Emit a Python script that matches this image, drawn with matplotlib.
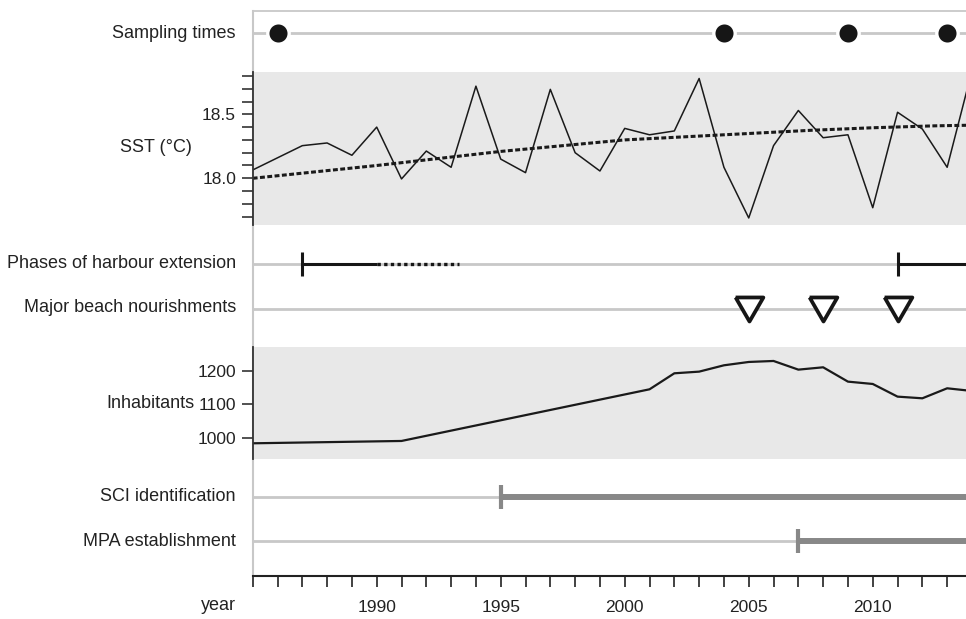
import numpy as np
import matplotlib
matplotlib.use("Agg")
import matplotlib.pyplot as plt
from matplotlib.ticker import FixedLocator

# --- data ---
sst_years = [1985, 1987, 1988, 1989, 1990, 1991, 1992, 1993, 1994, 1995, 1996, 1997, 1998,
             1999, 2000, 2001, 2002, 2003, 2004, 2005, 2006, 2007, 2008, 2009, 2010, 2011,
             2012, 2013, 2014]
sst_values = [18.065, 18.255, 18.276, 18.18, 18.40, 17.995, 18.213, 18.086, 18.72, 18.15,
              18.044, 18.695, 18.20, 18.057, 18.39, 18.34, 18.37, 18.78, 18.086, 17.69,
              18.255, 18.53, 18.317, 18.34, 17.77, 18.516, 18.385, 18.086, 18.84]

trend_years = [1985, 1987.5, 1990, 1992.5, 1995, 1997.5, 2000, 2002.5, 2005, 2007.5, 2010, 2012.5, 2014]
trend_values = [18.00, 18.05, 18.10, 18.155, 18.21, 18.255, 18.30, 18.325, 18.35, 18.375, 18.395, 18.41, 18.415]

inhab_years = [1985, 1991, 2001, 2002, 2003, 2004, 2005, 2006, 2007, 2008, 2009, 2010, 2011, 2012, 2013, 2014]
inhab_values = [983, 990, 1145, 1193, 1198, 1217, 1227, 1230, 1204, 1211, 1168, 1161, 1123, 1118, 1148, 1140]

sampling_years = [1986, 2004, 2009, 2013]
harbour_solid = [(1987, 1990), (2011, 2014)]
harbour_dotted = [(1990, 1993.3)]
harbour_starts = [1987, 2011]
nourishment_years = [2005, 2008, 2011]
sci_year = 1995
mpa_year = 2007

x_min, x_max = 1985, 2013.76
year_ticks = list(range(1985, 2014))
year_labels = [str(y) if (y % 5 == 0 and y > 1985) else "" for y in year_ticks]

plt.rcParams["font.family"] = ["Liberation Sans", "DejaVu Sans"]
FS = 13
TFS = 12.5
LIGHT = "#c8c8c8"
MID = "#888888"
INK = "#161616"
TXT = "#222222"

W, H = 966, 619
fig = plt.figure(figsize=(W / 100, H / 100), dpi=100)


def frac_box(top_px, bottom_px, left_px=252.7, right_px=W):
    return [left_px / W, (H - bottom_px) / H, (right_px - left_px) / W, (bottom_px - top_px) / H]


# background axes holding the timeline rows and the year axis (y in pixels)
ax = fig.add_axes(frac_box(11, 576), zorder=0)
ax.set_xlim(x_min, x_max)
ax.set_ylim(576, 11)
ax.patch.set_alpha(0)
ax.spines["right"].set_visible(False)
ax.spines["top"].set_color(LIGHT)
ax.spines["top"].set_linewidth(1.3)
ax.spines["left"].set_color(LIGHT)
ax.spines["left"].set_linewidth(1.5)
ax.spines["bottom"].set_color(TXT)
ax.spines["bottom"].set_linewidth(1.5)
ax.set_yticks([])
ax.xaxis.set_major_locator(FixedLocator(year_ticks))
ax.set_xticklabels(year_labels)
ax.tick_params(axis="x", direction="out", length=8, width=1.2, color=TXT,
               labelsize=TFS, pad=9, labelcolor=TXT)

row_y = {"sampling": 33.3, "harbour": 263.5, "beach": 309, "sci": 496.5, "mpa": 541}
for y in row_y.values():
    ax.axhline(y, color=LIGHT, lw=2, zorder=1)

# sampling times
ax.plot(sampling_years, [row_y["sampling"]] * len(sampling_years), "o", ms=15.4,
        mfc=INK, mec="white", mew=2.4, zorder=3, clip_on=False)

# harbour extension phases
for a, b in harbour_solid:
    ax.plot([a, b], [row_y["harbour"]] * 2, color=INK, lw=2.2, solid_capstyle="butt", zorder=3)
for a, b in harbour_dotted:
    ax.plot([a, b], [row_y["harbour"]] * 2, color=INK, lw=2.4, dashes=(1.0, 1.0),
            dash_capstyle="butt", zorder=3)
ax.plot(harbour_starts, [row_y["harbour"]] * len(harbour_starts), "|", ms=17, mew=2.2,
        color=INK, zorder=4)

# beach nourishments
tri = [(-1, 0.866), (1, 0.866), (0, -0.866), (-1, 0.866)]
ax.plot(nourishment_years, [row_y["beach"]] * len(nourishment_years), linestyle="none",
        marker=tri, ms=20, mfc="white", mec=INK, mew=2.7, zorder=4)

# SCI and MPA
for yr, key in [(sci_year, "sci"), (mpa_year, "mpa")]:
    ax.plot([yr, 2014], [row_y[key]] * 2, color=MID, lw=4.3, solid_capstyle="butt", zorder=3)
    ax.plot([yr], [row_y[key]], "|", ms=17, mew=3, color=MID, zorder=4)

# SST panel
ax_sst = fig.add_axes(frac_box(71.7, 225), zorder=1)
ax_sst.set_facecolor("#e8e8e8")
ax_sst.set_xlim(x_min, x_max)
ax_sst.set_ylim(17.635, 18.833)
ax_sst.plot(sst_years, sst_values, color="#1a1a1a", lw=1.1)
ax_sst.plot(trend_years, trend_values, color="#1a1a1a", lw=2.2, dashes=(1.6, 0.8))
ax_sst.yaxis.set_major_locator(FixedLocator([18.0, 18.5]))
ax_sst.yaxis.set_minor_locator(FixedLocator([17.7, 17.8, 17.9, 18.1, 18.2, 18.3, 18.4, 18.6, 18.7, 18.8]))
ax_sst.set_yticklabels(["18.0", "18.5"])

# inhabitants panel
ax_inh = fig.add_axes(frac_box(347.3, 459.3), zorder=1)
ax_inh.set_facecolor("#e8e8e8")
ax_inh.set_xlim(x_min, x_max)
ax_inh.set_ylim(935, 1271)
ax_inh.plot(inhab_years, inhab_values, color="#1a1a1a", lw=1.6)
ax_inh.yaxis.set_major_locator(FixedLocator([1000, 1100, 1200]))

for a in (ax_sst, ax_inh):
    for s in ("top", "right", "bottom"):
        a.spines[s].set_visible(False)
    a.spines["left"].set_color("#333333")
    a.spines["left"].set_linewidth(1.3)
    a.set_xticks([])
    a.tick_params(axis="y", which="both", direction="out", length=8, width=1.2,
                  color="#333333", labelsize=TFS, pad=4, labelcolor=TXT)

# row labels
lx = 236 / W
for text, ypx in [("Sampling times", 33.3), ("Phases of harbour extension", 263.5),
                  ("Major beach nourishments", 308), ("SCI identification", 496.5),
                  ("MPA establishment", 541), ("year", 605)]:
    fig.text(lx, 1 - ypx / H, text, ha="right", va="center", fontsize=FS, color=TXT)
fig.text(156 / W, 1 - 148 / H, "SST (°C)", ha="center", va="center", fontsize=FS, color=TXT)
fig.text(194 / W, 1 - 404 / H, "Inhabitants", ha="right", va="center", fontsize=FS, color=TXT)

fig.savefig("out.png", dpi=100, facecolor="white")
